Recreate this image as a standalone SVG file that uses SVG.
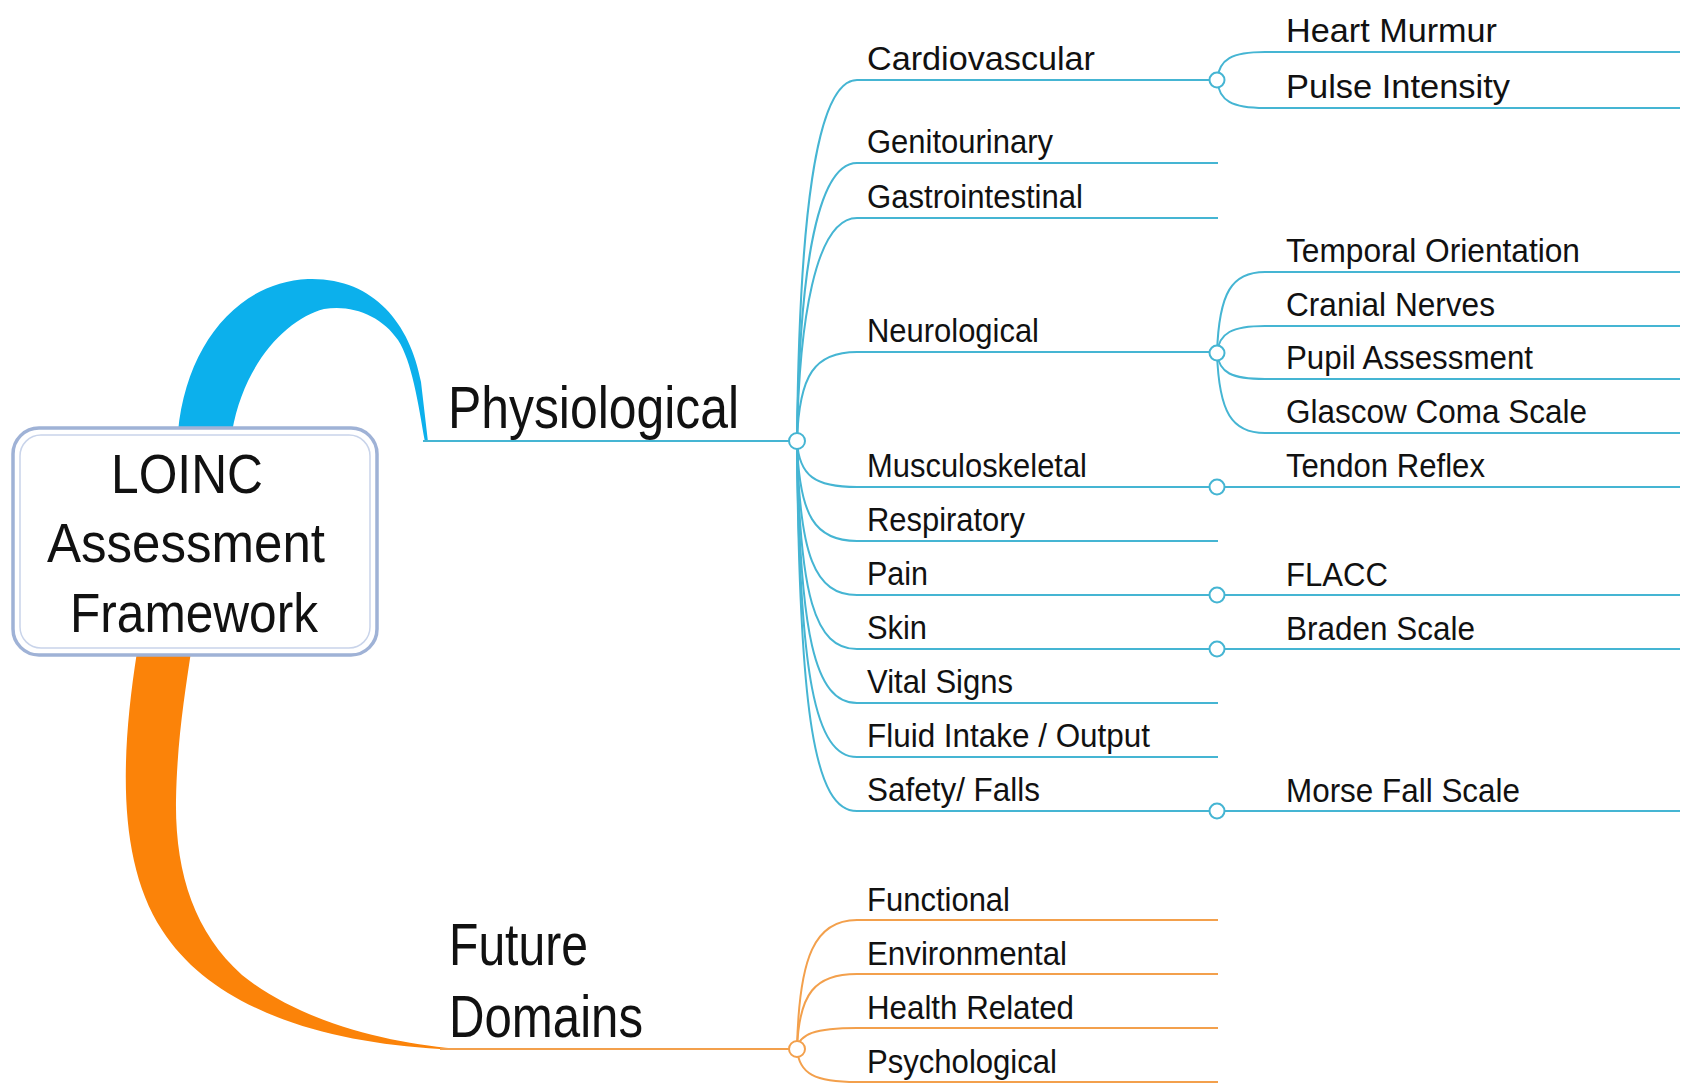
<svg xmlns="http://www.w3.org/2000/svg" width="1689" height="1083" viewBox="0 0 1689 1083">
  <style>
    text { font-family: "Liberation Sans", Arial, sans-serif; fill: #111; }
    .t1 { font-size: 60px; }
    .t0 { font-size: 56px; }
    .t2 { font-size: 34px; }
    .b { fill: none; stroke: #45b5d3; stroke-width: 2; }
    .o { fill: none; stroke: #f3a04c; stroke-width: 2; }
    .cb { fill: #fff; stroke: #45b5d3; stroke-width: 2; }
    .co { fill: #fff; stroke: #f3a04c; stroke-width: 2; }
  </style>
  <rect width="1689" height="1083" fill="#fff"/>

  <!-- main branches: ribbons from the central topic -->
  <g id="connectors">
    <path id="ribbon-physiological" fill="#0cb0ec" d="M178,432 C186,345 238,282 308,279 C372,277 410,322 421,382 L428,442 L425,442 C418,402 412,362 398,340 C382,316 352,304 324,309 C288,318 244,362 232,432 Z"/>
    <path id="ribbon-future" fill="#fb8309" d="M137,652 C120,760 118,862 162,930 C212,1008 320,1042 440,1049 L462,1049 C398,1045 302,1024 242,975 C194,932 175,872 176,800 C177,742 185,692 191,652 Z"/>

    <!-- Physiological -->
    <path class="b" d="M423,441 L789,441"/>
    <path class="b" d="M797,441 C799,224 815,80 857,80 L1209,80"/>
    <path class="b" d="M797,441 C799,282 815,163 857,163 L1218,163"/>
    <path class="b" d="M797,441 C799,323 815,218 857,218 L1218,218"/>
    <path class="b" d="M797,441 C799,374 815,352 857,352 L1209,352"/>
    <path class="b" d="M797,441 C799,476 815,487 857,487 L1209,487"/>
    <path class="b" d="M797,441 C799,516 815,541 857,541 L1218,541"/>
    <path class="b" d="M797,441 C799,556 815,595 857,595 L1209,595"/>
    <path class="b" d="M797,441 C799,597 815,649 857,649 L1209,649"/>
    <path class="b" d="M797,441 C799,637 815,703 857,703 L1218,703"/>
    <path class="b" d="M797,441 C799,678 815,757 857,757 L1218,757"/>
    <path class="b" d="M797,441 C799,718 815,811 857,811 L1209,811"/>

    <!-- Cardiovascular -->
    <path class="b" d="M1217,80 C1219,59 1232,52 1265,52 L1680,52"/>
    <path class="b" d="M1217,80 C1219,101 1232,108 1265,108 L1680,108"/>
    <!-- Neurological -->
    <path class="b" d="M1217,353 C1219,292 1232,272 1265,272 L1680,272"/>
    <path class="b" d="M1217,353 C1219,333 1232,326 1265,326 L1680,326"/>
    <path class="b" d="M1217,353 C1219,373 1232,379 1265,379 L1680,379"/>
    <path class="b" d="M1217,353 C1219,413 1232,433 1265,433 L1680,433"/>
    <!-- single children -->
    <path class="b" d="M1225,487 L1680,487"/>
    <path class="b" d="M1225,595 L1680,595"/>
    <path class="b" d="M1225,649 L1680,649"/>
    <path class="b" d="M1225,811 L1680,811"/>

    <!-- Future Domains -->
    <path class="o" d="M440,1049 L789,1049"/>
    <path class="o" d="M797,1049 C799,956 815,920 857,920 L1218,920"/>
    <path class="o" d="M797,1049 C799,993 815,974 857,974 L1218,974"/>
    <path class="o" d="M797,1049 C799,1034 815,1028 857,1028 L1218,1028"/>
    <path class="o" d="M797,1049 C799,1074 815,1082 857,1082 L1218,1082"/>

    <!-- junction circles -->
    <circle class="cb" cx="797" cy="441" r="8"/>
    <circle class="cb" cx="1217" cy="80" r="7.5"/>
    <circle class="cb" cx="1217" cy="353" r="7.5"/>
    <circle class="cb" cx="1217" cy="487" r="7.5"/>
    <circle class="cb" cx="1217" cy="595" r="7.5"/>
    <circle class="cb" cx="1217" cy="649" r="7.5"/>
    <circle class="cb" cx="1217" cy="811" r="7.5"/>
    <circle class="co" cx="797" cy="1049" r="8"/>
  </g>

  <!-- central topic -->
  <g id="central">
    <rect x="13" y="428" width="364" height="227" rx="26" fill="#fff" stroke="#9fb2d6" stroke-width="3.5"/>
    <rect x="20" y="435" width="350" height="213" rx="21" fill="none" stroke="#c9d4ea" stroke-width="1.5"/>
    <text class="t0" x="111" y="493" textLength="152" lengthAdjust="spacingAndGlyphs">LOINC</text>
    <text class="t0" x="47" y="562" textLength="278" lengthAdjust="spacingAndGlyphs">Assessment</text>
    <text class="t0" x="70" y="632" textLength="248" lengthAdjust="spacingAndGlyphs">Framework</text>
  </g>

  <g id="physiological"><text class="t1" x="448" y="428" textLength="291" lengthAdjust="spacingAndGlyphs">Physiological</text></g>
  <g id="future-domains">
    <text class="t1" x="449" y="965" textLength="139" lengthAdjust="spacingAndGlyphs">Future</text>
    <text class="t1" x="449" y="1037" textLength="194" lengthAdjust="spacingAndGlyphs">Domains</text>
  </g>

  <g id="cardiovascular"><text class="t2" x="867" y="70" textLength="228" lengthAdjust="spacingAndGlyphs">Cardiovascular</text></g>
  <g id="genitourinary"><text class="t2" x="867" y="153" textLength="186" lengthAdjust="spacingAndGlyphs">Genitourinary</text></g>
  <g id="gastrointestinal"><text class="t2" x="867" y="208" textLength="216" lengthAdjust="spacingAndGlyphs">Gastrointestinal</text></g>
  <g id="neurological"><text class="t2" x="867" y="342" textLength="172" lengthAdjust="spacingAndGlyphs">Neurological</text></g>
  <g id="musculoskeletal"><text class="t2" x="867" y="477" textLength="220" lengthAdjust="spacingAndGlyphs">Musculoskeletal</text></g>
  <g id="respiratory"><text class="t2" x="867" y="531" textLength="158" lengthAdjust="spacingAndGlyphs">Respiratory</text></g>
  <g id="pain"><text class="t2" x="867" y="585" textLength="61" lengthAdjust="spacingAndGlyphs">Pain</text></g>
  <g id="skin"><text class="t2" x="867" y="639" textLength="60" lengthAdjust="spacingAndGlyphs">Skin</text></g>
  <g id="vital-signs"><text class="t2" x="867" y="693" textLength="146" lengthAdjust="spacingAndGlyphs">Vital Signs</text></g>
  <g id="fluid-intake-output"><text class="t2" x="867" y="747" textLength="283" lengthAdjust="spacingAndGlyphs">Fluid Intake / Output</text></g>
  <g id="safety-falls"><text class="t2" x="867" y="801" textLength="173" lengthAdjust="spacingAndGlyphs">Safety/ Falls</text></g>

  <g id="heart-murmur"><text class="t2" x="1286" y="42" textLength="211" lengthAdjust="spacingAndGlyphs">Heart Murmur</text></g>
  <g id="pulse-intensity"><text class="t2" x="1286" y="98" textLength="224" lengthAdjust="spacingAndGlyphs">Pulse Intensity</text></g>
  <g id="temporal-orientation"><text class="t2" x="1286" y="262" textLength="294" lengthAdjust="spacingAndGlyphs">Temporal Orientation</text></g>
  <g id="cranial-nerves"><text class="t2" x="1286" y="316" textLength="209" lengthAdjust="spacingAndGlyphs">Cranial Nerves</text></g>
  <g id="pupil-assessment"><text class="t2" x="1286" y="369" textLength="247" lengthAdjust="spacingAndGlyphs">Pupil Assessment</text></g>
  <g id="glascow-coma-scale"><text class="t2" x="1286" y="423" textLength="301" lengthAdjust="spacingAndGlyphs">Glascow Coma Scale</text></g>
  <g id="tendon-reflex"><text class="t2" x="1286" y="477" textLength="199" lengthAdjust="spacingAndGlyphs">Tendon Reflex</text></g>
  <g id="flacc"><text class="t2" x="1286" y="586" textLength="102" lengthAdjust="spacingAndGlyphs">FLACC</text></g>
  <g id="braden-scale"><text class="t2" x="1286" y="640" textLength="189" lengthAdjust="spacingAndGlyphs">Braden Scale</text></g>
  <g id="morse-fall-scale"><text class="t2" x="1286" y="802" textLength="234" lengthAdjust="spacingAndGlyphs">Morse Fall Scale</text></g>

  <g id="functional"><text class="t2" x="867" y="911" textLength="143" lengthAdjust="spacingAndGlyphs">Functional</text></g>
  <g id="environmental"><text class="t2" x="867" y="965" textLength="200" lengthAdjust="spacingAndGlyphs">Environmental</text></g>
  <g id="health-related"><text class="t2" x="867" y="1019" textLength="207" lengthAdjust="spacingAndGlyphs">Health Related</text></g>
  <g id="psychological"><text class="t2" x="867" y="1073" textLength="190" lengthAdjust="spacingAndGlyphs">Psychological</text></g>
</svg>
